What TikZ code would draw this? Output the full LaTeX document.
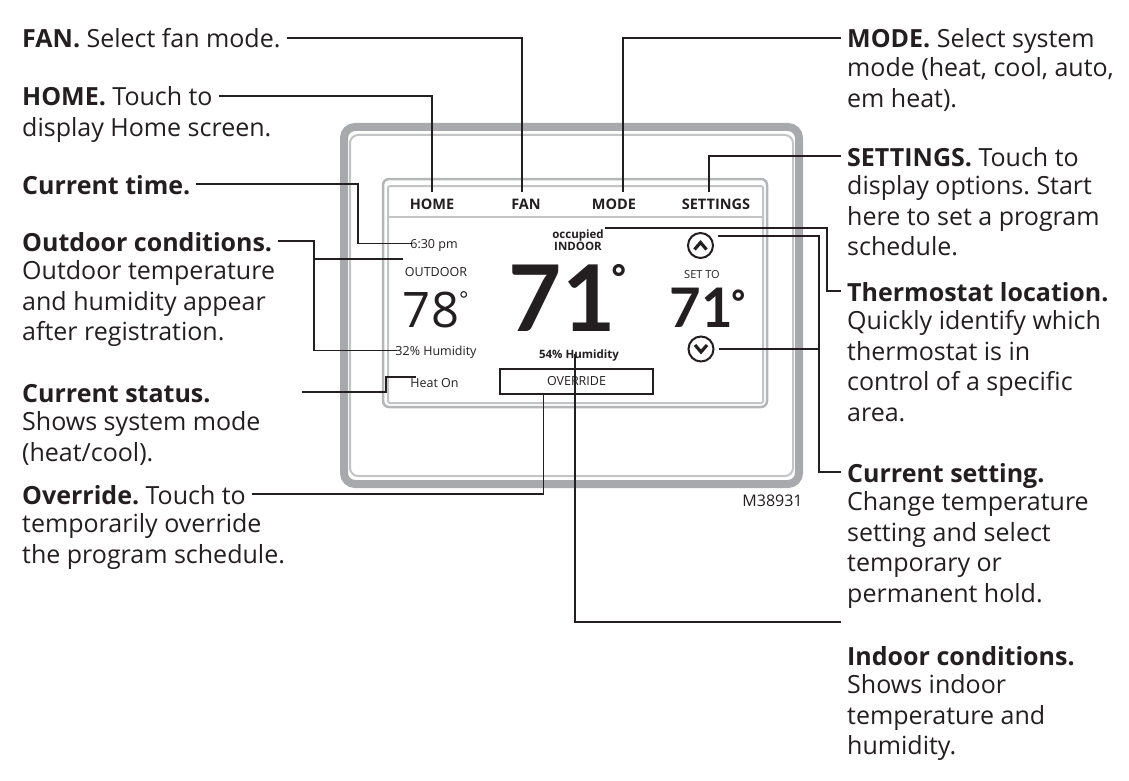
\documentclass[tikz,border=0pt]{standalone}
\usepackage{fontspec}
\setmainfont{Open Sans}
\newfontfamily\numfont{Lato}
\usepackage{tikz}
\usetikzlibrary{positioning,calc}
\frenchspacing
\definecolor{ink}{HTML}{231F20}
\definecolor{bezel}{HTML}{A7A9AC}
\definecolor{bezelLite}{HTML}{C2C4C6}
\newcommand{\annfont}{\fontsize{25}{30.7}\selectfont}
\newcommand{\scrfont}{\fontsize{12.5}{14}\selectfont}
\tikzset{
  note/.style={anchor=base west, inner xsep=6pt, inner ysep=0pt, text height=20pt,
               text depth=0pt, font=\annfont, text=ink},
  notebody/.style={below=9.2pt of #1.base west, anchor=north west, inner xsep=6pt,
                   inner ysep=0pt, align=left, font=\annfont, text=ink,
                   execute at begin node=\strut},
  lead/.style={draw=ink, line width=1.8pt},
  bezelbox/.style={draw=bezel, line width=8pt, rounded corners=11pt,
                   minimum width=455pt, minimum height=357pt, inner sep=0pt},
  bezelin/.style={draw=bezelLite, line width=2pt, rounded corners=8pt,
                  minimum width=443pt, minimum height=341pt, inner sep=0pt},
  screenbox/.style={draw=bezel!85, line width=2.5pt, rounded corners=6pt,
                    minimum width=384pt, minimum height=228pt, inner sep=0pt},
  screenin/.style={draw=bezelLite, line width=2pt, rounded corners=2pt,
                   minimum width=375pt, minimum height=217pt, inner sep=0pt},
  btn/.style={anchor=base, font=\fontsize{14.5}{16}\selectfont\bfseries, text=ink,
              text height=11pt, text depth=0pt, inner xsep=2pt, inner ysep=6pt},
  scr/.style={anchor=base, font=\scrfont, text=ink, inner sep=1pt,
              text height=9pt, text depth=0pt},
  bignum/.style={anchor=base, inner sep=0pt, text=ink},
  deg/.style={anchor=north west, inner sep=0pt, text=ink},
  ovbox/.style={draw=ink, line width=2pt, minimum width=153pt, minimum height=25pt,
                inner sep=0pt, font=\scrfont, text=ink},
  arrbtn/.style={circle, draw=ink, line width=2pt, minimum size=25pt, inner sep=0pt},
  chev/.style={draw=ink, line width=3.2pt},
  code/.style={anchor=base, font=\fontsize{16}{18}\selectfont, text=ink}
}

\begin{document}
\begin{tikzpicture}[x=1pt, y=-1pt]
  \path[use as bounding box, fill=white] (0,0) rectangle (1129,781);

  %% Thermostat body
  \node[bezelbox] (unit) at (571.5,305.5) {};
  \node[bezelin] (unitin) at (571.5,305.5) {};
  \node[screenbox] (screen) at (575,293) {};
  \node[screenin] (screenin) at (575.5,294.5) {};
  \draw[bezelLite, line width=2.5pt] ($(screenin.north west)+(0,32)$)
       -- ($(screenin.north east)+(0,32)$);

  %% Header buttons
  \node[btn] (bhome) at (432,209) {HOME};
  \node[btn] (bfan)  at (526,209) {FAN};
  \node[btn] (bmode) at (614,209) {MODE};
  \node[btn] (bset)  at (716,209) {SETTINGS};

  %% Outdoor column
  \node[scr] (clock)  at (434,248) {6:30 pm};
  \node[scr] (outlbl) at (436,276) {OUTDOOR};
  \node[bignum, font=\fontsize{49}{49}\selectfont] (t78) at (431,327) {78};
  \node[deg, font=\fontsize{22}{22}\selectfont] (d78) at (459,291) {°};
  \node[scr] (hum32)  at (436,355) {32\% Humidity};
  \node[scr] (heaton) at (434.5,387) {Heat On};

  %% Indoor column
  \node[scr, font=\fontsize{11.5}{13}\selectfont\bfseries] (occ) at (578,238) {occupied};
  \node[scr, font=\fontsize{11.5}{13}\selectfont\bfseries] (inlbl) at (578,250) {INDOOR};
  \node[bignum, font=\fontsize{92}{92}\numfont\bfseries] (t71) at (562,331) {71};
  \node[deg, font=\fontsize{36}{36}\selectfont\bfseries] (d71) at (611,264) {°};
  \node[scr, font=\fontsize{11.5}{13}\selectfont\bfseries] (hum54) at (579,358) {54\% Humidity};
  \node[ovbox] (ovbtn) at (576.5,381) {OVERRIDE};

  %% Set point column
  \node[scr, font=\fontsize{11}{13}\selectfont] (setto) at (702,278) {SET TO};
  \node[bignum, font=\fontsize{54.5}{55}\numfont\bfseries] (t71s) at (701,327) {71};
  \node[deg, font=\fontsize{34}{34}\selectfont\bfseries] (d71s) at (731,290) {°};
  \node[arrbtn] (upbtn) at (700.5,245.5) {};
  \node[arrbtn] (dnbtn) at (701,349) {};
  \draw[chev] ([shift={(-6,4)}]upbtn.center) -- ([shift={(0,-3)}]upbtn.center)
              -- ([shift={(6,4)}]upbtn.center);
  \draw[chev] ([shift={(-6,-4)}]dnbtn.center) -- ([shift={(0,3)}]dnbtn.center)
              -- ([shift={(6,-4)}]dnbtn.center);

  \node[code] (tag) at (772.5,506) {M38931};

  %% Left notes
  \node[note] (fanh) at (16,48) {\textbf{FAN.} Select fan mode.};
  \node[note] (homeh) at (16,106) {\textbf{HOME.} Touch to};
  \node[notebody=homeh] (homeb) {display Home screen.};
  \node[note] (timeh) at (16,194) {\textbf{Current time.}};
  \node[note] (outh) at (16,251) {\textbf{Outdoor conditions.}};
  \node[notebody=outh] (outb) {Outdoor temperature\\and humidity appear\\after registration.};
  \node[note] (stath) at (16,402) {\textbf{Current status.}};
  \node[notebody=stath] (statb) {Shows system mode\\(heat/cool).};
  \node[note] (ovh) at (16,504) {\textbf{Override.} Touch to};
  \node[notebody=ovh] (ovb) {temporarily override\\the program schedule.};

  %% Right notes
  \node[note] (modeh) at (841,48) {\textbf{MODE.} Select system};
  \node[notebody=modeh] (modeb) {mode (heat, cool, auto,\\em heat).};
  \node[note] (seth) at (841,166) {\textbf{SETTINGS.} Touch to};
  \node[notebody=seth] (setb) {display options. Start\\here to set a program\\schedule.};
  \node[note] (loch) at (841,301) {\textbf{Thermostat location.}};
  \node[notebody=loch] (locb) {Quickly identify which\\thermostat is in\\control of a specific\\area.};
  \node[note] (curh) at (841,482) {\textbf{Current setting.}};
  \node[notebody=curh] (curb) {Change temperature\\setting and select\\temporary or\\permanent hold.};
  \node[note] (inh) at (841,665) {\textbf{Indoor conditions.}};
  \node[notebody=inh] (inb) {Shows indoor\\temperature and\\humidity.};

  %% Leaders
  \coordinate (ospine) at ([xshift=-80pt]hum32.west);
  \coordinate (otip) at ([shift={(-1,-7)}]outlbl.north west);
  \coordinate (statfree) at (302,392);
  \coordinate (sspine) at ([xshift=-22pt]curh.west);

  \draw[lead] (fanh.east) -| ([xshift=-4pt]bfan.north);
  \draw[lead] (homeh.east) -| (bhome.north);
  \draw[lead] (modeh.west) -| ([xshift=9pt]bmode.north);
  \draw[lead] (seth.west) -| ([xshift=-7pt]bset.north);
  \draw[lead] (timeh.east) -| ([xshift=-51pt]clock.west) -- ([xshift=2pt]clock.west);
  \draw[lead] (outh.east) -| (ospine) -- ([xshift=3pt]hum32.west);
  \draw[lead] (ospine |- otip) -- (otip);
  \draw[lead] (statfree) -| ([xshift=-23pt]heaton.north west) -- ([xshift=7pt]heaton.north west);
  \draw[lead] (ovh.east) -| ([xshift=-33pt]ovbtn.south);
  \draw[lead] ([xshift=-4pt]hum54.center) |- ([yshift=23pt]inh.north west);
  \draw[lead] (occ.north east) -| ([xshift=-14pt]loch.west) -- (loch.west);
  \draw[lead] ([xshift=8pt]upbtn.north east) -| (sspine) -- (curh.west);
  \draw[lead] ([xshift=4pt]dnbtn.east) -- (dnbtn.east -| sspine);
\end{tikzpicture}
\end{document}
